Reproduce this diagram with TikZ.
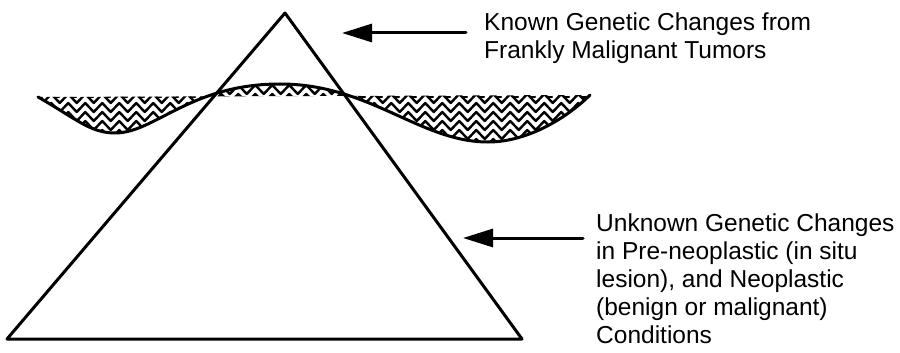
\documentclass[tikz,border=0pt]{standalone}
\usepackage{fontspec}
\setmainfont{Liberation Sans}
\usetikzlibrary{arrows.meta,decorations.pathmorphing}

\tikzset{
	muiten/.style={line width=3pt, -{Triangle[length=30pt,width=18pt]}},
	nhan/.style={align=left, inner sep=0pt, anchor=north west, font=\fontsize{24.5}{28}\selectfont},
	song/.style={line width=2.4pt, decorate, decoration={zigzag, segment length=17pt, amplitude=4.5pt}}
}

\begin{document}
\begin{tikzpicture}[x=1pt, y=-1pt, line join=round, line cap=round]
		\useasboundingbox (0,0) rectangle (900,353);
		
		% Định nghĩa toạ độ các đỉnh
		\coordinate (A) at (285,13);
		\coordinate (B) at (7,339);
		\coordinate (C) at (522,339);
		
		% Vùng gạch sóng giữa đường cong và mực ngang
		\begin{scope}
			\clip (38,97) .. controls (75,118) and (90,133) .. (115,133)
			.. controls (155,133) and (190,84) .. (280,84)
			.. controls (370,84) and (420,142) .. (488,142)
			.. controls (530,142) and (570,115) .. (590,95) -- cycle;
			\foreach \y in {89.5,98.5,...,150}
			\draw[song] (30,\y) -- (600,\y);
			\draw[line width=2.4pt, dash pattern=on 4pt off 13pt] (38,97) -- (590,97);
		\end{scope}
		
		% Vẽ đường cong
		\draw[line width=3pt] (38,97) .. controls (75,118) and (90,133) .. (115,133)
		.. controls (155,133) and (190,84) .. (280,84)
		.. controls (370,84) and (420,142) .. (488,142)
		.. controls (530,142) and (570,115) .. (590,95);
		
		% Vẽ tam giác
		\draw[line width=3pt] (A) -- (B) -- (C) -- cycle;
		
		% Mũi tên và nhãn
		\coordinate (k1) at (466,33);
		\coordinate (k2) at (342,33);
		\coordinate (u1) at (583,238);
		\coordinate (u2) at (463,238);
		\draw[muiten] (k1) -- (k2);
		\draw[muiten] (u1) -- (u2);
		
		\node[nhan] (known) at (484,13) {Known Genetic Changes from\\Frankly Malignant Tumors};
		\node[nhan] (unknown) at (596,214) {Unknown Genetic Changes\\in Pre-neoplastic (in situ\\lesion), and Neoplastic\\(benign or malignant)\\Conditions};
\end{tikzpicture}
\end{document}
